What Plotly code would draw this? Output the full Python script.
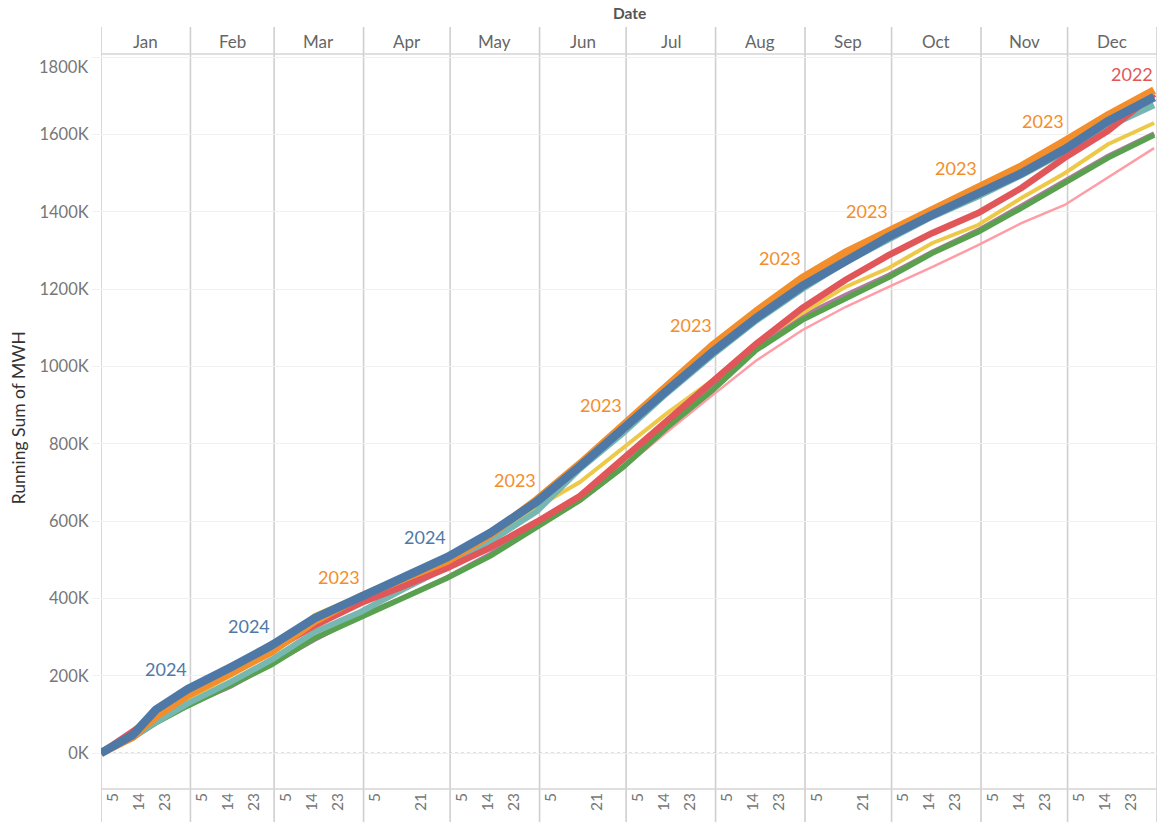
import plotly.graph_objects as go
import pandas as pd

# ---- data (values in thousands of MWH, running sum) ----
dates = ["2024-01-01", "2024-01-12", "2024-01-20", "2024-01-31", "2024-02-15", "2024-02-29",
         "2024-03-15", "2024-03-31", "2024-04-15", "2024-04-30", "2024-05-15", "2024-05-31",
         "2024-06-15", "2024-06-30", "2024-07-15", "2024-07-31", "2024-08-15", "2024-08-31",
         "2024-09-15", "2024-09-30", "2024-10-15", "2024-10-31", "2024-11-15", "2024-11-30",
         "2024-12-15", "2024-12-31"]

y2024 = [0, 47, 112, 165, 222, 278, 349, 404, 455, 507, 570, 650, 742, 836, 937, 1038, 1125, 1208, 1275, 1336, 1392, 1445, 1500, 1562, 1635, 1697]
y2023 = [0, 42, 95, 150, 207, 262, 341, 405, 452, 497, 565, 655, 748, 849, 950, 1055, 1142, 1229, 1295, 1350, 1408, 1463, 1518, 1583, 1650, 1715]
y2022 = [0, 55, 100, 152, 210, 265, 330, 388, 432, 479, 532, 598, 665, 762, 862, 965, 1058, 1151, 1224, 1288, 1345, 1397, 1462, 1540, 1610, 1705]
y2021 = [0, 40, 80, 128, 184, 241, 313, 365, 425, 481, 548, 625, 735, 828, 930, 1030, 1118, 1200, 1270, 1330, 1387, 1440, 1495, 1555, 1620, 1676]
y2020 = [0, 40, 78, 122, 176, 228, 297, 352, 400, 453, 510, 585, 654, 740, 841, 939, 1042, 1120, 1175, 1231, 1293, 1348, 1410, 1475, 1540, 1599]
y2019 = [0, 42, 90, 140, 200, 260, 357, 408, 440, 485, 560, 636, 701, 789, 878, 965, 1060, 1138, 1206, 1255, 1319, 1366, 1436, 1500, 1575, 1630]
y2018 = [0, 40, 78, 124, 172, 232, 293, 355, 403, 455, 515, 590, 662, 758, 855, 955, 1045, 1130, 1185, 1237, 1296, 1353, 1416, 1482, 1545, 1603]
y2017 = [0, 45, 100, 160, 225, 287, 340, 388, 430, 478, 525, 585, 650, 737, 830, 926, 1015, 1094, 1154, 1206, 1257, 1314, 1371, 1418, 1490, 1565]

years = [2017, 2018, 2019, 2020, 2021, 2022, 2023, 2024]
series = {2024: y2024, 2023: y2023, 2022: y2022, 2021: y2021,
          2020: y2020, 2019: y2019, 2018: y2018, 2017: y2017}
colors = {2024: "#4e79a7", 2023: "#f28e2b", 2022: "#e15759", 2021: "#76b7b2",
          2020: "#59a14f", 2019: "#edc948", 2018: "#b07aa1", 2017: "#ff9da7"}
widths = {2024: 8.5, 2023: 8, 2022: 6.5, 2021: 6, 2020: 5.5, 2019: 4, 2018: 4.5, 2017: 2.5}

months = ["Jan", "Feb", "Mar", "Apr", "May", "Jun", "Jul", "Aug", "Sep", "Oct", "Nov", "Dec"]
month_end_idx = [3, 5, 7, 9, 11, 13, 15, 17, 19, 21, 23, 25]
label_years = [2024, 2024, 2023, 2024, 2023, 2023, 2023, 2023, 2023, 2023, 2023, 2022]

tick_days = {"Jan": [5, 14, 23], "Feb": [5, 14, 23], "Mar": [5, 14, 23], "Apr": [5, 21],
             "May": [5, 14, 23], "Jun": [5, 21], "Jul": [5, 14, 23], "Aug": [5, 14, 23],
             "Sep": [5, 21], "Oct": [5, 14, 23], "Nov": [5, 14, 23], "Dec": [5, 14, 23]}

y_ticks = [0, 200, 400, 600, 800, 1000, 1200, 1400, 1600, 1800]

# ---- figure ----
FONT = "Lato"
fig = go.Figure()

draw_order = [2017, 2018, 2020, 2019, 2021, 2022, 2023, 2024]
for yr in draw_order:
    fig.add_trace(go.Scatter(
        x=pd.to_datetime(dates), y=series[yr], mode="lines", name=str(yr),
        line=dict(color=colors[yr], width=widths[yr]), showlegend=False,
        hovertemplate="%{x|%b %d}<br>%{y:.0f}K<extra>" + str(yr) + "</extra>"))

# month boundaries
starts = [pd.Timestamp(2024, m, 1) for m in range(1, 13)] + [pd.Timestamp(2025, 1, 1)]
H = 734.0
y_top = 1 + 28 / H     # header top
y_bot = -33 / H
for b in starts:
    fig.add_shape(type="line", xref="x", yref="paper", x0=b, x1=b, y0=y_bot, y1=y_top,
                  line=dict(color="#cfcfcf", width=1.6), layer="below")
# header bottom & plot bottom line
for yy in [1.0 + 1 / H, 0.0]:
    fig.add_shape(type="line", xref="paper", yref="paper", x0=0, x1=1, y0=yy, y1=yy,
                  line=dict(color="#d4d4d4", width=1.3), layer="below")
# zero line dotted
fig.add_shape(type="line", xref="paper", yref="y", x0=0, x1=1, y0=0, y1=0,
              line=dict(color="#bdbdbd", width=1, dash="dot"), layer="below")

# month header labels
for i, m in enumerate(months):
    c = starts[i] + (starts[i + 1] - starts[i]) / 2
    fig.add_annotation(x=c, xref="x", y=1 + 14 / H, yref="paper", text=m, showarrow=False,
                       yanchor="middle", font=dict(family=FONT, size=17, color="#666666"))
fig.add_annotation(x=0.5, xref="paper", y=1 + 42 / H, yref="paper", text="<b>Date</b>",
                   showarrow=False, yanchor="middle",
                   font=dict(family=FONT, size=15.5, color="#555555"))

# year labels at month ends
dts = pd.to_datetime(dates)
for i, yr in enumerate(label_years):
    idx = month_end_idx[i]
    fig.add_annotation(x=dts[idx], y=series[yr][idx], xref="x", yref="y", text=str(yr),
                       showarrow=False, xanchor="right", yanchor="bottom", yshift=7, xshift=1,
                       font=dict(family=FONT, size=18, color=colors[yr]))

# y title
fig.add_annotation(x=-83 / 1056, xref="paper", y=0.505, yref="paper", text="Running Sum of MWH",
                   textangle=-90, showarrow=False, xanchor="center", yanchor="middle",
                   font=dict(family=FONT, size=17.5, color="#333333"))

# top tick label sits inside the pane (as in the original)
fig.add_annotation(x=-11 / 1056, xref="paper", y=1 - 12 / H, yref="paper", text="1800K",
                   showarrow=False, xanchor="right", yanchor="middle",
                   font=dict(family=FONT, size=16.5, color="#777777"))

tickvals, ticktext = [], []
for mi, m in enumerate(months):
    for d in tick_days[m]:
        tickvals.append(pd.Timestamp(2024, mi + 1, d))
        ticktext.append(str(d))

fig.update_layout(
    width=1160, height=822,
    margin=dict(l=101, r=3, t=55, b=33),
    plot_bgcolor="white", paper_bgcolor="white",
    font=dict(family=FONT),
    xaxis=dict(type="date", range=[pd.Timestamp(2024, 1, 1), pd.Timestamp(2025, 1, 1)],
               showgrid=False, zeroline=False, showline=False,
               tickvals=tickvals, ticktext=ticktext, tickangle=-90,
               tickfont=dict(family=FONT, size=15.5, color="#777777"), ticks=""),
    yaxis=dict(range=[-93, 1806], tickvals=y_ticks,
               ticktext=[f"{v}K" if v < 1800 else "" for v in y_ticks],
               showgrid=True, gridcolor="#f0f0f0", gridwidth=1, zeroline=False, showline=False,
               ticks="outside", ticklen=8, tickcolor="#f0f0f0",
               tickfont=dict(family=FONT, size=16.5, color="#777777")),
)

fig.write_html("out.html", config={"displayModeBar": False},
               post_script="document.body.style.margin='0';document.body.style.overflow='hidden';")
